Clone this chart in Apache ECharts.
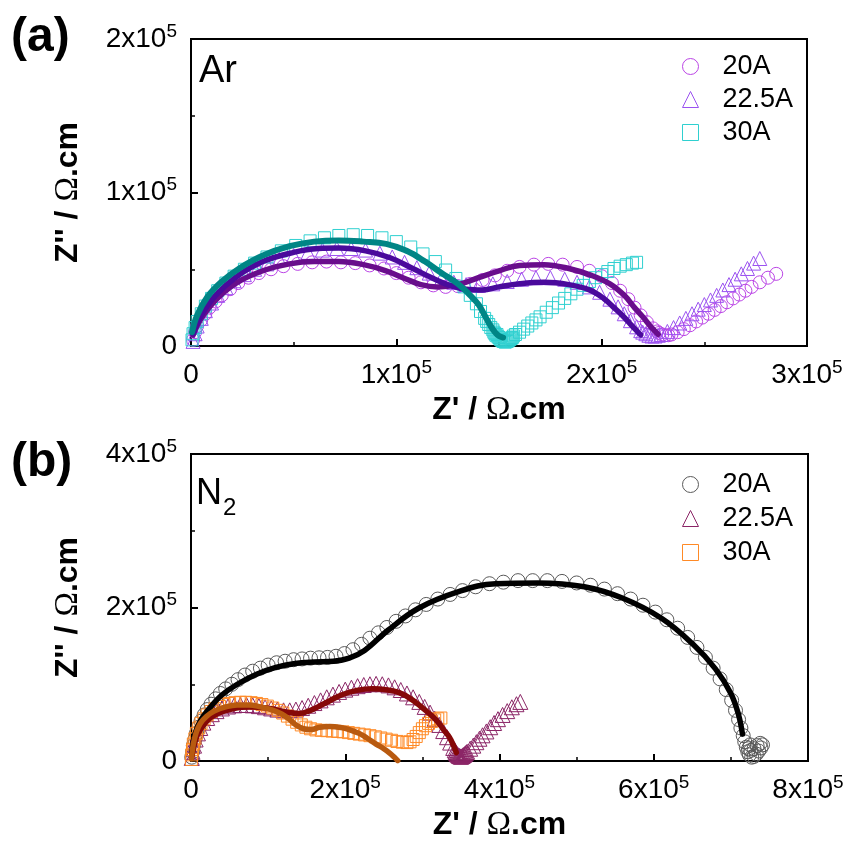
<!DOCTYPE html>
<html><head><meta charset="utf-8">
<script src="https://cdn.jsdelivr.net/npm/echarts@6/dist/echarts.min.js"></script>
<style>html,body{margin:0;padding:0;background:#fff}#c{width:847px;height:843px}</style>
</head><body><div id="c"></div>
<script>
// Units: 10^3 Ohm.cm
// ---------- Panel (a): Ar ----------
const arCirc20 = [[1,4],[2,9],[3,13],[5,17],[7,21],[9,25],[12,29],[15,33],[19,37],[23,41],[28,44.5],[33,47.5],[39,50],[45,52],[52,53.5],[59,54.5],[66,55],[73,54.5],[80,54],[87,52.5],[94,50.5],[100,47.5],[106,44.5],[112,41.5],[118,39.5],[124,38.5],[130,39],[136,40.5],[142,43],[148,46],[154,49],[160,51.5],[167,53],[174,53.5],[181,53],[188,51.5],[194,49],[200,45.5],[205,41],[209,36],[213,30.5],[216,25],[219,20],[222,15.5],[225,11.5],[227,9.5],[228,8.5],[229.5,7.5],[231,7],[232.5,7],[234,7.5],[237,9],[240,11],[243,13.5],[246,16],[249,18.5],[252,21],[255,23.5],[258,26],[261,28.5],[264,31],[267,33.5],[270,36],[273,38.5],[277,41.5],[281,44.5],[285,47]];
const arTri225 = [[1,3],[2,8],[3,13],[5,18],[7,23],[10,28],[13,33],[17,38],[21,42.5],[26,46.5],[31,50],[37,53.5],[43,56.5],[50,59],[57,61],[64,62.5],[71,63.5],[78,63.5],[85,62.5],[92,60.5],[98,58],[104,54.5],[110,51],[116,47.5],[122,44],[128,41.5],[134,40],[140,39.5],[147,40.5],[154,42],[161,43.5],[168,44.5],[175,44.5],[182,43.5],[188,41.5],[194,38.5],[199,35],[204,30.5],[208,25.5],[211,21],[214,16.5],[217,12.5],[219,10],[220,9],[221.5,8],[223,7],[224.5,6.5],[226,6.5],[227.5,7],[229,7.5],[232,9.5],[235,12],[238,15],[241,18],[244,21],[247,24],[250,27],[253,30],[256,33],[259,36.5],[262,40],[265,43.5],[268,47],[271,50.5],[274,54],[277,57]];
const arSq30 = [[0.5,4],[1,8],[2,12],[3,16],[5,21],[7,26],[10,31],[13,36],[17,41],[21,45.5],[26,50],[31,54],[37,58],[44,62],[51,65.5],[58,68.5],[65,70.5],[72,72],[79,72.5],[86,72],[93,70.5],[100,68],[107,64.5],[113,60],[119,55],[124,49.5],[129,44],[133,38.5],[136,33],[139,27.5],[141,22.5],[143,18],[144,16],[145,14],[146,12],[147,10.5],[147.5,9],[148,8],[148.5,7],[149,7.5],[149.5,6],[150,5.5],[150.5,4.5],[151,4],[151.5,3.5],[152,3],[152.5,3],[153,2.5],[153.5,2.8],[154,3],[154.5,3.5],[155,4],[155.5,4.5],[156,5],[156.5,5.5],[157,6.5],[158,7.5],[160,9],[162,11],[164,13],[166,15],[168,17],[170,19],[173,22],[176,25],[179,28],[182,31],[185,34],[188,37],[191,39.5],[194,42],[197,44.5],[200,46.5],[203,48.5],[206,50.5],[209,52],[212,53],[215,54],[217,54.5]];
const arFit20 = [[1,7],[5,18],[12,30],[22,41],[35,49],[48,53.5],[60,55],[72,55],[84,53],[95,49],[105,43.5],[112,40],[120,38.5],[130,40],[140,44.5],[150,49],[160,52.5],[172,53],[184,50.5],[195,46],[204,40.5],[211,33],[216,25],[220,19],[224,12.5],[227.5,7.6]];
const arFit225 = [[1,8],[5,20],[12,33],[22,45],[35,55],[50,61],[62,63.5],[72,63.8],[85,62],[97,57.5],[108,50.5],[118,44],[126,39.5],[134,37],[142,36.5],[150,38.5],[160,40.5],[172,41.5],[184,40],[194,36.6],[201,31],[206,25],[210,20],[214,14.3],[217,10],[219,7.2]];
const arFit30 = [[0.5,9],[3,20],[8,32],[15,42],[24,51],[35,59],[48,65],[60,68],[72,68.8],[84,68],[95,66.5],[105,62],[114,55],[122,47.5],[130,40.5],[136,33],[140,27],[143,20],[145.5,14],[148,9],[150,6.5],[152,5.5]];

// ---------- Panel (b): N2 ----------
const n2Circ20 = [[1,5],[2,12],[3,20],[5,28],[7,36],[10,44],[13,52],[17,60],[21,67],[26,74],[32,81],[38,88],[45,94],[53,100],[61,106],[70,112],[80,117],[90,121],[100,125],[111,128],[122,130],[133,132],[144,133],[155,134],[166,134.5],[177,135],[188,136.5],[199,140],[210,145],[221,152],[232,160],[243,167],[254,174],[266,182],[278,189],[291,197],[305,204],[320,211],[336,217],[352,222],[369,227],[387,231],[405,233],[424,235],[443,235],[462,235],[481,234],[500,232],[518,229],[536,224],[553,218],[570,211],[586,203],[602,194],[617,184],[631,173],[644,161],[656,148],[667,135],[677,121],[686,107],[694,93],[701,79],[706,66],[710,54],[713,43],[716,33],[718,25],[720,18],[722,12],[724,8],[727,5],[730,6],[733,9],[736,13],[739,17],[741,21],[738,23],[734,20],[730,16],[726,14],[723,16],[725,21]];
const n2Tri225 = [[1,4],[2,12],[4,20],[6,28],[9,36],[12,43],[16,50],[21,56],[27,61],[33,65],[40,68.5],[48,71],[56,72.5],[64,73],[72,73],[80,72.5],[88,71.5],[96,70],[104,68.5],[112,67],[120,66],[128,66],[136,67],[144,69],[152,72],[160,75.5],[168,79],[176,83],[184,86.5],[192,90],[200,93],[208,95.5],[216,97.5],[224,99],[232,100],[240,100.5],[248,100],[256,98.5],[264,96],[272,92.5],[280,88],[288,83],[296,77],[303,70.5],[310,63],[316,55],[322,47],[327,39],[332,31],[336,24],[340,17],[342,14],[343,12],[344,10],[345,9],[346,8],[347,7],[348,6.5],[349,6],[350,5.5],[351,6],[352,6.5],[353,7.5],[354,8],[355,9],[356,10],[357,11],[358,12],[362,16],[366,20],[370,24.5],[374,29],[378,33.5],[383,38.5],[388,44],[393,49.5],[398,54.5],[404,60],[410,65],[416,70],[422,74],[427,77]];
const n2Sq30 = [[0.5,2],[1,8],[2,15],[3,22],[5,29],[7,36],[10,43],[13,49],[17,55],[21,60],[26,64.5],[31,68],[37,71],[43,73.5],[50,75],[57,76],[64,76.5],[71,76.5],[78,76],[85,75],[92,73.5],[99,71.5],[106,69],[113,66],[119,62.5],[125,58.5],[131,54.5],[137,50.5],[143,47],[149,44],[155,42],[162,40.5],[169,40],[176,39.5],[183,39],[190,38.5],[197,38],[204,37],[211,36],[218,35],[225,34],[232,33],[239,31.5],[246,30],[253,28.5],[260,27],[267,25.5],[274,24.5],[280,24],[284,25],[288,28],[292,32],[296,37],[300,42],[304,46],[308,49],[312,51.5],[316,53.5],[320,55],[324,56]];
const n2Fit20 = [[1,10],[5,35],[12,52],[25,70],[40,86],[60,100],[85,113],[110,122],[135,127],[160,129],[185,130],[205,134],[225,144],[255,170],[295,199],[345,220],[395,231],[450,232],[510,227],[560,212],[610,186],[650,153],[680,120],[700,88],[710,60],[715,35]];
const n2Fit225 = [[1,4],[4,20],[8,33],[15,45],[25,56],[35,62],[50,67],[65,70],[80,70.5],[95,69.5],[110,67],[125,63.5],[140,62],[155,66],[175,76],[195,86],[215,92],[235,94],[255,92.5],[270,89],[285,81],[298,71],[310,61],[320,51],[328,40],[335,31],[340,21],[344,11]];
const n2Fit30 = [[0.5,3],[3,22],[7,38],[12,49],[20,58],[30,65],[45,70.5],[60,73],[75,73],[90,70.5],[105,66.5],[118,61],[128,54],[136,47],[146,42],[156,41],[167,44],[180,45],[195,43.5],[205,41],[218,36],[228,30],[240,22],[250,16],[258,10],[264,4.5],[268,0.5]];

const legendNames = ['20A', '22.5A', '30A'];
const axisA = {xMax: 300, xInt: 100, yMax: 200, yInt: 100};
const axisB = {xMax: 800, xInt: 200, yMax: 400, yInt: 200};

const FONT = "'Liberation Sans', Arial, sans-serif";
const SERIF = "'Liberation Serif', 'Times New Roman', serif";

function tickFmt(v) {
  if (v === 0) return '{n|0}';
  return '{n|' + (v / 100) + 'x10}{s|5}';
}
const labelRich = {
  n: {fontSize: 28, fontFamily: FONT, color: '#000', lineHeight: 34},
  s: {fontSize: 19, fontFamily: FONT, color: '#000', lineHeight: 19, verticalAlign: 'top'}
};
const titleRich = {
  b: {fontSize: 32, fontWeight: 'bold', fontFamily: FONT, color: '#000'},
  o: {fontSize: 33, fontWeight: 'normal', fontFamily: SERIF, color: '#000'}
};

function xAxis(gridIndex, cfg) {
  return {
    type: 'value', gridIndex, min: 0, max: cfg.xMax, interval: cfg.xInt,
    name: "{b|Z' / }{o|Ω}{b|.cm}", nameLocation: 'middle', nameGap: 48,
    nameTextStyle: {rich: titleRich},
    axisLine: {show: true, onZero: false, lineStyle: {color: '#000', width: 2}},
    axisTick: {show: true, inside: true, length: 7, lineStyle: {color: '#000', width: 2}},
    minorTick: {show: true, splitNumber: 2, length: 4, lineStyle: {color: '#000', width: 1.5}},
    splitLine: {show: false}, minorSplitLine: {show: false},
    axisLabel: {show: true, margin: 12, formatter: tickFmt, rich: labelRich, showMinLabel: true, showMaxLabel: true}
  };
}
function yAxis(gridIndex, cfg) {
  return {
    type: 'value', gridIndex, min: 0, max: cfg.yMax, interval: cfg.yInt,
    name: "{b|Z'' / }{o|Ω}{b|.cm}", nameLocation: 'middle', nameGap: 106, nameRotate: 90,
    nameTextStyle: {rich: titleRich},
    axisLine: {show: true, onZero: false, lineStyle: {color: '#000', width: 2}},
    axisTick: {show: true, inside: true, length: 7, lineStyle: {color: '#000', width: 2}},
    minorTick: {show: true, splitNumber: 2, length: 4, lineStyle: {color: '#000', width: 1.5}},
    splitLine: {show: false}, minorSplitLine: {show: false},
    axisLabel: {show: true, margin: 14, formatter: tickFmt, rich: labelRich, showMinLabel: true, showMaxLabel: true}
  };
}

function scatter(name, idx, data, symbol, size, color) {
  return {
    name, type: 'scatter', xAxisIndex: idx, yAxisIndex: idx, data, symbol, symbolSize: size,
    itemStyle: {color: 'rgba(0,0,0,0)', borderColor: color, borderWidth: 1, opacity: 1},
    emphasis: {disabled: true}, z: 2, silent: true
  };
}
function fit(name, idx, data, color, width) {
  return {
    name, type: 'line', xAxisIndex: idx, yAxisIndex: idx, data, smooth: 0.4,
    showSymbol: false, symbol: 'none', lineStyle: {color, width, cap: 'round', join: 'round'},
    itemStyle: {color}, emphasis: {disabled: true}, z: 5, silent: true
  };
}
const legendText = {fontSize: 27, fontFamily: FONT, color: '#000', lineHeight: 26,
  rich: {t: {fontSize: 27, fontFamily: FONT, color: '#000', padding: [0, 0, 0, 19]}}};

const option = {
  animation: false,
  backgroundColor: '#fff',
  textStyle: {fontFamily: FONT},
  grid: [
    {left: 191, top: 39, width: 616, height: 307, show: true, borderColor: '#000', borderWidth: 2, backgroundColor: 'transparent'},
    {left: 191, top: 454, width: 617, height: 307, show: true, borderColor: '#000', borderWidth: 2, backgroundColor: 'transparent'}
  ],
  xAxis: [xAxis(0, axisA), xAxis(1, axisB)],
  yAxis: [yAxis(0, axisA), yAxis(1, axisB)],
  title: [
    {text: '(a)', left: 11, top: 14, padding: 0, textStyle: {fontSize: 48, fontWeight: 'bold', fontFamily: FONT, color: '#000'}},
    {text: '(b)', left: 11, top: 439, padding: 0, textStyle: {fontSize: 48, fontWeight: 'bold', fontFamily: FONT, color: '#000'}},
    {text: 'Ar', left: 199, top: 53, padding: 0, textStyle: {fontSize: 38, fontWeight: 'normal', fontFamily: FONT, color: '#000'}},
    {text: '{m|N}{s|2}', left: 196, top: 476, padding: 0, textStyle: {fontWeight: 'normal', rich: {
      m: {fontSize: 36, fontWeight: 'normal', fontFamily: FONT, color: '#000', lineHeight: 44, verticalAlign: 'top'},
      s: {fontSize: 24, fontWeight: 'normal', fontFamily: FONT, color: '#000', lineHeight: 24, verticalAlign: 'bottom', padding: [0,0,0,1]}
    }}}
  ],
  legend: [
    {
      orient: 'vertical', left: 677, top: 48, itemWidth: 16, itemHeight: 16, itemGap: 6,
      data: [{name: 'Ar ' + legendNames[0], icon: 'circle'}, {name: 'Ar ' + legendNames[1], icon: 'triangle'}, {name: 'Ar ' + legendNames[2], icon: 'rect'}],
      formatter: n => '{t|' + n.replace(/^Ar /, '') + '}',
      textStyle: legendText,
      itemStyle: {borderWidth: 1}, selectedMode: false
    },
    {
      orient: 'vertical', left: 677, top: 466, itemWidth: 16, itemHeight: 16, itemGap: 7,
      data: [{name: 'N2 ' + legendNames[0], icon: 'circle'}, {name: 'N2 ' + legendNames[1], icon: 'triangle'}, {name: 'N2 ' + legendNames[2], icon: 'rect'}],
      formatter: n => '{t|' + n.replace(/^N2 /, '') + '}',
      textStyle: legendText,
      itemStyle: {borderWidth: 1}, selectedMode: false
    }
  ],
  series: [
    scatter('Ar 20A', 0, arCirc20, 'circle', 13, '#bb44e6'),
    scatter('Ar 22.5A', 0, arTri225, 'triangle', 14, '#9b52f0'),
    scatter('Ar 30A', 0, arSq30, 'rect', 12, '#2fd0d0'),
    fit('Ar fit 20A', 0, arFit20, '#690d8c', 5.5),
    fit('Ar fit 22.5A', 0, arFit225, '#4a0a9c', 5.5),
    fit('Ar fit 30A', 0, arFit30, '#008585', 6),
    scatter('N2 20A', 1, n2Circ20, 'circle', 14, '#5a5a5a'),
    scatter('N2 22.5A', 1, n2Tri225, 'triangle', 15, '#8b2566'),
    scatter('N2 30A', 1, n2Sq30, 'rect', 12, '#ff8a26'),
    fit('N2 fit 20A', 1, n2Fit20, '#000000', 5.5),
    fit('N2 fit 22.5A', 1, n2Fit225, '#850808', 5.5),
    fit('N2 fit 30A', 1, n2Fit30, '#b85a10', 5.5)
  ]
};
const chart = echarts.init(document.getElementById('c'), null, {renderer: 'canvas'});
chart.setOption(option);
</script></body></html>
